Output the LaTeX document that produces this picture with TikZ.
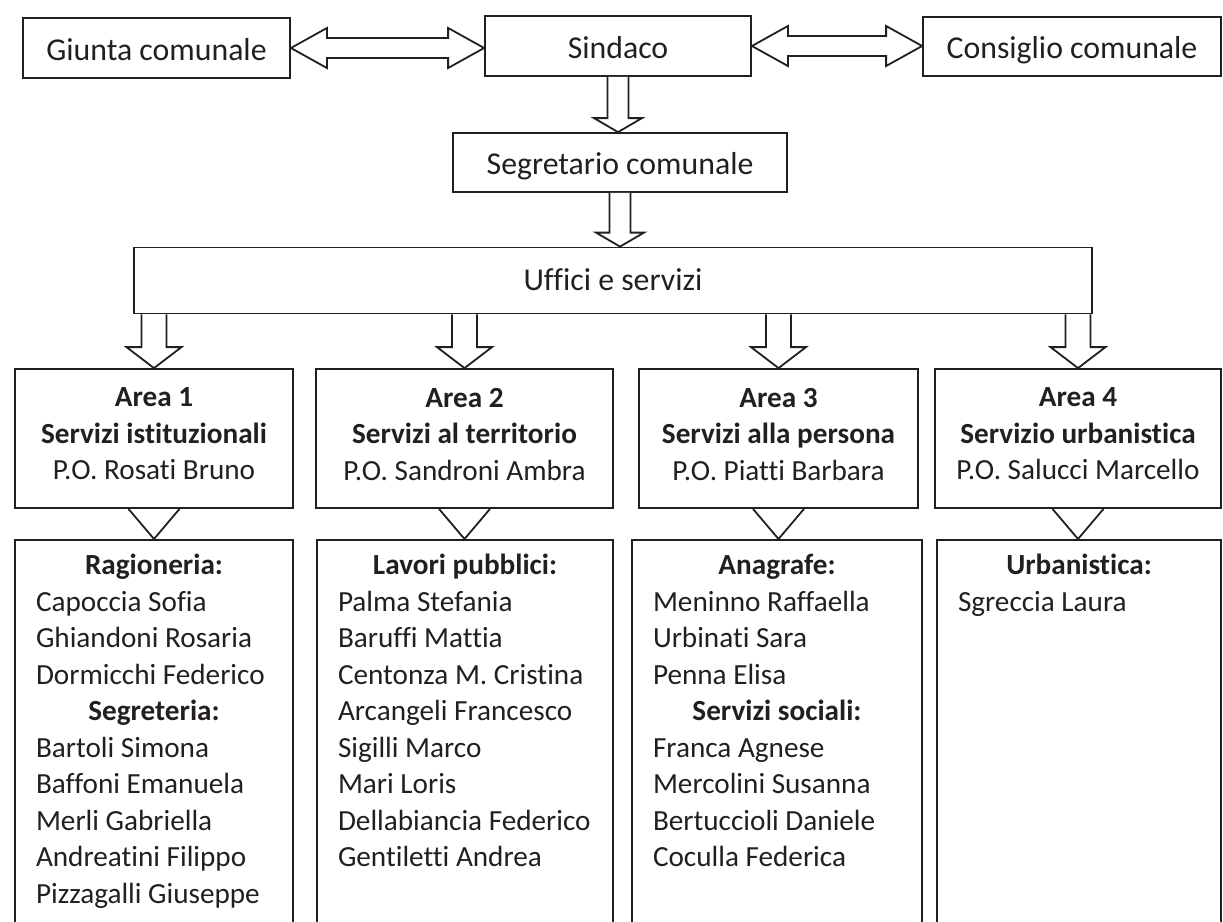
\documentclass[tikz,border=0pt]{standalone}
\usepackage{fontspec}
\setmainfont{Carlito}[Ligatures=NoCommon]
\usepackage{tikz}
\usetikzlibrary{calc}

\definecolor{ink}{HTML}{231F20}

% hollow block arrows between boxes
\newcommand{\fatdown}[5]{%
  \draw[fat] ($(#1)+(-#3,0)$) -- ($(#2)+(-#3,-#5)$) -- ($(#2)+(-#4,-#5)$) -- (#2)
    -- ($(#2)+(#4,-#5)$) -- ($(#2)+(#3,-#5)$) -- ($(#1)+(#3,0)$);}
\newcommand{\fatboth}[2]{%
  \draw[fat] (#1) -- ($(#1)+(36,-20)$) -- ($(#1)+(36,-10)$) -- ($(#2)+(-36,-10)$)
    -- ($(#2)+(-36,-20)$) -- (#2) -- ($(#2)+(-36,20)$) -- ($(#2)+(-36,10)$)
    -- ($(#1)+(36,10)$) -- ($(#1)+(36,20)$) -- cycle;}
\newcommand{\listhead}[1]{\hfill\strut\textbf{#1}\hfill\null}

\begin{document}
\begin{tikzpicture}[x=1pt, y=-1pt, line width=1.8pt, color=ink,
    topbox/.style={draw, rectangle, inner sep=0pt, minimum height=60,
      font=\fontsize{31.8}{38}\selectfont, text height=24pt, text depth=0pt},
    areabox/.style={draw, rectangle, inner sep=0pt, minimum height=139, align=center,
      font=\fontsize{29.2}{36.5}\selectfont, text depth=9pt},
    listbox/.style={draw, rectangle, inner sep=0pt, minimum height=400, anchor=north},
    names/.style={anchor=north, inner sep=0pt, align=flush left,
      font=\fontsize{29.2}{36.5}\selectfont},
    fat/.style={fill=white}]
        \useasboundingbox (0,0) rectangle (1223,921);
        % Organigramma comunale
        \node[topbox, minimum width=267] (giunta) at (156.5,48) {Giunta comunale};
        \node[topbox, minimum width=266] (sindaco) at (618,46) {Sindaco};
        \node[topbox, minimum width=298, minimum height=59] (consiglio) at (1072,46.5) {Consiglio comunale};
        \node[topbox, minimum width=334, minimum height=59] (segr) at (620,162.5) {Segretario comunale};
        \node[topbox, minimum width=958, minimum height=66, text height=19pt] (uffici) at (613,280.5) {Uffici e servizi};

        \node[areabox, minimum width=278] (a1) at (154,438.5) {\textbf{Area 1}\\\textbf{Servizi istituzionali}\\P.O. Rosati Bruno};
        \node[areabox, minimum width=297] (a2) at (464.5,438.5) {\textbf{Area 2}\\\textbf{Servizi al territorio}\\P.O. Sandroni Ambra};
        \node[areabox, minimum width=279] (a3) at (778.5,438.5) {\textbf{Area 3}\\\textbf{Servizi alla persona}\\P.O. Piatti Barbara};
        \node[areabox, minimum width=286] (a4) at (1078,438.5) {\textbf{Area 4}\\\textbf{Servizio urbanistica}\\P.O. Salucci Marcello};

        \node[listbox, minimum width=278] (l1) at (154,539) {};
        \node[listbox, minimum width=296] (l2) at (465,539) {};
        \node[listbox, minimum width=290] (l3) at (777,539) {};
        \node[listbox, minimum width=284] (l4) at (1079,539) {};

        \node[names, text width=236] (n1) at ($(l1.north)+(0,9.45)$) {\listhead{Ragioneria:}\\Capoccia Sofia\\Ghiandoni Rosaria\\Dormicchi Federico\\\listhead{Segreteria:}\\Bartoli Simona\\Baffoni Emanuela\\Merli Gabriella\\Andreatini Filippo\\Pizzagalli Giuseppe};
        \node[names, text width=254] (n2) at ($(l2.north)+(0,9.45)$) {\listhead{Lavori pubblici:}\\Palma Stefania\\Baruffi Mattia\\Centonza M. Cristina\\Arcangeli Francesco\\Sigilli Marco\\Mari Loris\\Dellabiancia Federico\\Gentiletti Andrea};
        \node[names, text width=248] (n3) at ($(l3.north)+(0,9.45)$) {\listhead{Anagrafe:}\\Meninno Raffaella\\Urbinati Sara\\Penna Elisa\\\listhead{Servizi sociali:}\\Franca Agnese\\Mercolini Susanna\\Bertuccioli Daniele\\Coculla Federica};
        \node[names, text width=242] (n4) at ($(l4.north)+(0,9.45)$) {\listhead{Urbanistica:}\\Sgreccia Laura};

        \fatboth{giunta.east}{giunta.east -| sindaco.west}
        \fatboth{sindaco.east}{sindaco.east -| consiglio.west}
        \fatdown{sindaco.south}{sindaco.south |- segr.north}{10.5}{24}{14}
        \fatdown{segr.south}{segr.south |- uffici.north}{10.5}{24}{14}
        \foreach \a in {a1,a2,a3,a4}
            \fatdown{uffici.south -| \a.north}{\a.north}{12.5}{27.5}{21};
        \foreach \a/\l in {a1/l1,a2/l2,a3/l3,a4/l4}
            \draw ($(\a.south)+(-25.5,0)$) -- (\a.south |- \l.north) -- ($(\a.south)+(25.5,0)$);
    \end{tikzpicture}
\end{document}
